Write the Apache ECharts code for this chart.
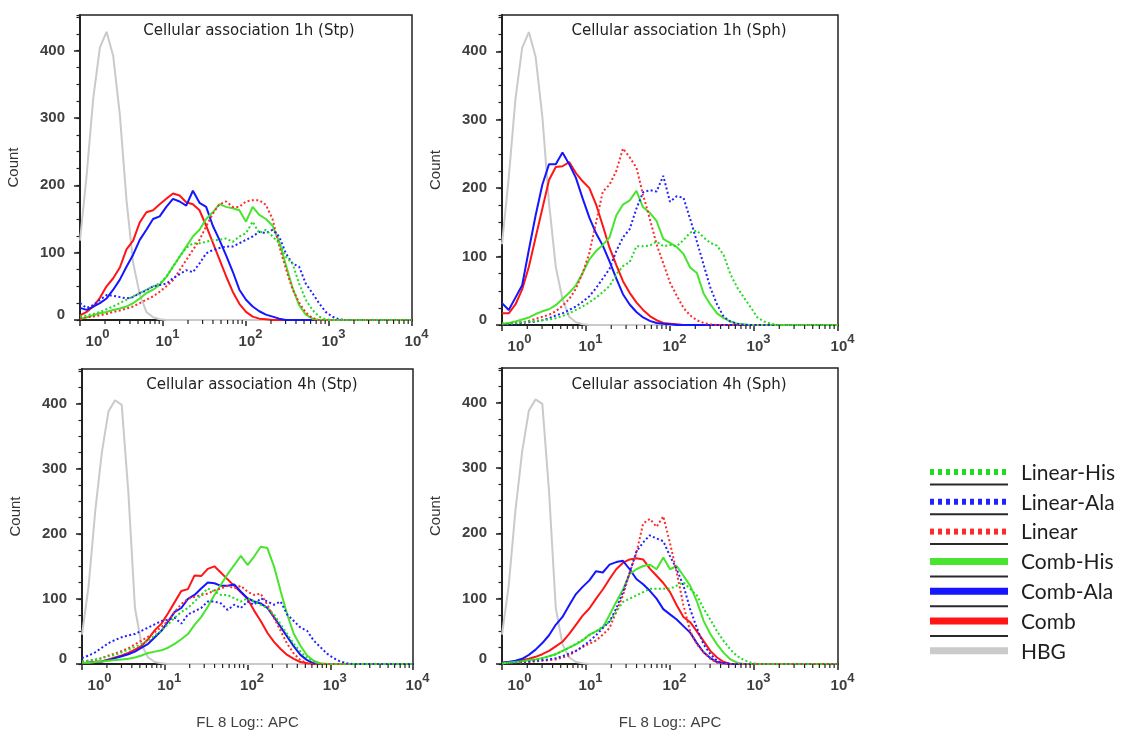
<!DOCTYPE html>
<html>
<head>
<meta charset="utf-8">
<script src="https://cdn.jsdelivr.net/npm/echarts@6/dist/echarts.min.js"></script>
<style>
  html, body { margin: 0; padding: 0; background: #ffffff; }
  #chart { width: 1128px; height: 731px; }
</style>
</head>
<body>
<div id="chart"></div>
<script>
// Flow cytometry histograms: counts per log channel, channel i sits at 10^(i * 0.08)
const CHANNEL_STEP_PERCENT = 8;           // channel width in hundredths of a decade
const SERIES_NAMES = ['Linear-His', 'Linear-Ala', 'Linear', 'Comb-His', 'Comb-Ala', 'Comb', 'HBG'];
const PANEL_TITLES = [
  'Cellular association 1h (Stp)',
  'Cellular association 1h (Sph)',
  'Cellular association 4h (Stp)',
  'Cellular association 4h (Sph)'
];
const X_AXIS_TITLE = 'FL 8 Log:: APC';
const Y_AXIS_TITLE = 'Count';
const MINOR_MANTISSAS = [2, 3, 4, 5, 6, 7, 8, 9];
const MINOR_DECADES = [1, 10, 100, 1000];

// untreated control (HBG)
const HBG_1H = [118,215,330,405,428,392,305,178,85,38, 12,4,1,0,0,0,0,0,0,0, 0,0,0,0,0,0,0,0,0,0, 0,0,0,0,0,0,0,0,0,0, 0,0,0,0,0,0,0,0,0,0, 0];
const HBG_4H = [45,120,235,325,388,405,398,264,86,30, 10,3,1,0,0,0,0,0,0,0, 0,0,0,0,0,0,0,0,0,0, 0,0,0,0,0,0,0,0,0,0, 0,0,0,0,0,0,0,0,0,0, 0];

// 1h, Stp
const STP_1H_COMB       = [7,12,20,33,50,62,78,105,118,145, 160,163,172,180,188,185,175,172,163,140, 115,90,65,42,24,12,5,2,1,0, 0,0,0,0,0,0,0,0,0,0, 0,0,0,0,0,0,0,0,0,0, 0];
const STP_1H_COMB_ALA   = [18,15,20,25,32,45,60,79,97,119, 134,150,154,168,180,176,170,192,174,168, 140,119,96,72,45,30,20,13,8,5, 2,0,0,0,0,0,0,0,0,0, 0,0,0,0,0,0,0,0,0,0, 0];
const STP_1H_COMB_HIS   = [2,4,7,10,12,15,17,20,25,32, 40,45,52,64,79,94,109,124,134,150, 160,172,168,166,163,146,168,156,150,140, 116,82,48,22,8,2,0,0,0,0, 0,0,0,0,0,0,0,0,0,0, 0];
const STP_1H_LINEAR     = [2,4,5,7,9,12,14,17,20,25, 30,35,42,50,59,74,89,104,119,139, 158,172,176,168,168,176,178,178,171,150, 110,76,46,26,11,3,0,0,0,0, 0,0,0,0,0,0,0,0,0,0, 0];
const STP_1H_LINEAR_ALA = [25,18,22,30,37,36,34,32,34,40, 44,50,52,54,62,68,74,71,84,99, 104,107,109,109,114,119,124,131,129,134, 124,99,84,79,54,40,25,12,5,1, 0,0,0,0,0,0,0,0,0,0, 0];
const STP_1H_LINEAR_HIS = [5,7,9,12,16,20,25,30,35,40, 45,50,54,64,79,94,107,114,114,116, 119,119,121,116,124,129,146,129,134,124, 114,94,84,54,30,15,5,1,0,0, 0,0,0,0,0,0,0,0,0,0, 0];

// 1h, Sph
const SPH_1H_COMB       = [17,17,30,52,85,128,170,212,231,232, 238,222,210,200,176,145,113,88,64,47, 33,22,13,7,3,2,1,0,0,0, 0,0,0,0,0,0,0,0,0,0, 0,0,0,0,0,0,0,0,0,0, 0];
const SPH_1H_COMB_ALA   = [32,22,40,58,110,160,205,235,235,252, 235,215,185,157,134,116,93,68,45,30, 19,11,6,3,2,1,0,0,0,0, 0,0,0,0,0,0,0,0,0,0, 0,0,0,0,0,0,0,0,0,0, 0];
const SPH_1H_COMB_HIS   = [2,3,5,8,11,16,20,23,29,38, 47,58,76,96,108,117,128,160,176,182, 196,172,164,152,126,120,114,104,84,76, 46,30,17,10,5,2,1,0,0,0, 0,0,0,0,0,0,0,0,0,0, 0];
const SPH_1H_LINEAR     = [1,2,3,4,6,9,12,15,20,28, 38,53,76,105,150,195,205,225,258,245, 230,190,155,118,90,62,43,25,14,7, 3,1,0,0,0,0,0,0,0,0, 0,0,0,0,0,0,0,0,0,0, 0];
const SPH_1H_LINEAR_ALA = [1,1,2,3,4,5,7,10,14,17, 22,27,34,42,54,68,82,108,128,140, 170,194,197,195,218,180,188,186,155,122, 88,55,30,12,5,2,0,0,0,0, 0,0,0,0,0,0,0,0,0,0, 0];
const SPH_1H_LINEAR_HIS = [2,2,3,4,5,6,7,8,10,13, 17,22,27,33,40,48,57,74,86,92, 115,115,116,122,115,117,115,124,135,138, 128,120,116,102,74,55,40,26,11,5, 2,0,0,0,0,0,0,0,0,0, 0];

// 4h, Stp
const STP_4H_COMB       = [1,2,3,4,7,10,13,17,22,28, 38,52,62,78,95,112,115,136,135,146, 150,140,130,120,110,100,82,66,48,34, 23,14,8,3,1,0,0,0,0,0, 0,0,0,0,0,0,0,0,0,0, 0];
const STP_4H_COMB_ALA   = [1,2,3,4,6,9,12,15,19,25, 31,41,51,65,80,86,100,106,116,125, 124,120,120,122,111,101,96,93,86,72, 57,42,27,14,6,1,0,0,0,0, 0,0,0,0,0,0,0,0,0,0, 0];
const STP_4H_COMB_HIS   = [2,2,3,4,5,6,7,8,10,13, 17,19,21,25,31,38,46,60,72,88, 106,122,138,152,166,152,165,180,178,150, 112,76,46,28,13,5,1,0,0,0, 0,0,0,0,0,0,0,0,0,0, 0];
const STP_4H_LINEAR     = [4,5,6,9,13,16,20,24,30,36, 42,49,57,66,80,92,100,103,106,108, 113,116,120,116,120,111,106,108,91,71, 51,31,16,6,1,0,0,0,0,0, 0,0,0,0,0,0,0,0,0,0, 0];
const STP_4H_LINEAR_ALA = [9,13,18,25,32,37,41,44,46,51, 56,61,66,68,71,62,76,81,86,96, 96,93,83,91,86,96,91,101,96,91, 96,76,66,56,51,36,26,16,9,4, 1,0,0,0,0,0,0,0,0,0, 0];
const STP_4H_LINEAR_HIS = [4,5,7,9,12,14,18,22,26,31, 36,44,51,61,71,80,86,96,106,116, 111,106,106,101,96,101,96,91,86,76, 61,46,31,19,9,4,0,0,0,0, 0,0,0,0,0,0,0,0,0,0, 0];

// 4h, Sph
const SPH_4H_COMB       = [2,3,4,6,8,11,15,20,27,34, 46,60,74,85,100,114,130,145,155,160, 162,160,146,135,124,110,90,72,64,50, 35,20,10,3,0,0,0,0,0,0, 0,0,0,0,0,0,0,0,0,0, 0];
const SPH_4H_COMB_ALA   = [2,3,5,8,14,22,32,44,60,72, 90,107,118,128,142,140,152,156,158,145, 130,122,112,100,84,76,68,58,48,32, 18,9,3,1,0,0,0,0,0,0, 0,0,0,0,0,0,0,0,0,0, 0];
const SPH_4H_COMB_HIS   = [1,2,3,4,6,7,9,12,15,20, 25,30,36,45,50,56,75,95,114,138, 145,150,152,145,163,145,150,135,120,96, 66,46,30,17,7,2,0,0,0,0, 0,0,0,0,0,0,0,0,0,0, 0];
const SPH_4H_LINEAR     = [1,1,2,2,3,4,5,6,7,10, 13,20,26,31,36,45,55,80,105,140, 170,215,222,210,226,185,140,90,50,30, 18,8,2,0,0,0,0,0,0,0, 0,0,0,0,0,0,0,0,0,0, 0];
const SPH_4H_LINEAR_ALA = [1,1,2,3,4,5,6,7,9,12, 16,20,27,35,44,55,65,85,110,140, 172,186,197,192,188,165,145,120,84,55, 30,15,5,1,0,0,0,0,0,0, 0,0,0,0,0,0,0,0,0,0, 0];
const SPH_4H_LINEAR_HIS = [1,2,3,4,6,7,9,12,15,20, 25,31,37,44,50,57,65,80,95,100, 105,110,115,115,115,115,120,125,115,105, 85,68,50,35,22,12,6,2,0,0, 0,0,0,0,0,0,0,0,0,0, 0];

const PANEL_DATA = [
  { 'HBG': HBG_1H, 'Comb': STP_1H_COMB, 'Comb-Ala': STP_1H_COMB_ALA, 'Comb-His': STP_1H_COMB_HIS,
    'Linear': STP_1H_LINEAR, 'Linear-Ala': STP_1H_LINEAR_ALA, 'Linear-His': STP_1H_LINEAR_HIS },
  { 'HBG': HBG_1H, 'Comb': SPH_1H_COMB, 'Comb-Ala': SPH_1H_COMB_ALA, 'Comb-His': SPH_1H_COMB_HIS,
    'Linear': SPH_1H_LINEAR, 'Linear-Ala': SPH_1H_LINEAR_ALA, 'Linear-His': SPH_1H_LINEAR_HIS },
  { 'HBG': HBG_4H, 'Comb': STP_4H_COMB, 'Comb-Ala': STP_4H_COMB_ALA, 'Comb-His': STP_4H_COMB_HIS,
    'Linear': STP_4H_LINEAR, 'Linear-Ala': STP_4H_LINEAR_ALA, 'Linear-His': STP_4H_LINEAR_HIS },
  { 'HBG': HBG_4H, 'Comb': SPH_4H_COMB, 'Comb-Ala': SPH_4H_COMB_ALA, 'Comb-His': SPH_4H_COMB_HIS,
    'Linear': SPH_4H_LINEAR, 'Linear-Ala': SPH_4H_LINEAR_ALA, 'Linear-His': SPH_4H_LINEAR_HIS }
];

// ---- styling ----
const STYLE = {
  'Linear-His': { color: '#1edc1e', dotted: true },
  'Linear-Ala': { color: '#2222ff', dotted: true },
  'Linear':     { color: '#ff2b2b', dotted: true },
  'Comb-His':   { color: '#48e42e', dotted: false },
  'Comb-Ala':   { color: '#1515ff', dotted: false },
  'Comb':       { color: '#ff1515', dotted: false },
  'HBG':        { color: '#cacaca', dotted: false }
};
const DRAW_ORDER = ['HBG', 'Comb', 'Comb-Ala', 'Comb-His', 'Linear', 'Linear-Ala', 'Linear-His'];

const GRIDS = [
  { left: 80,  top: 15,  width: 332, height: 305 },
  { left: 502, top: 15,  width: 336, height: 310 },
  { left: 82,  top: 369, width: 331, height: 302 },
  { left: 502, top: 368, width: 336, height: 302 }
];
const TITLE_POS = [[249, 31], [679, 31], [252, 385], [679, 385]];
const Y_MAX = 453;

const AXIS_FONT = 'Liberation Sans, Arial, sans-serif';
const INK = '#222';
const LABEL_INK = '#3f3f3f';

function channelValue(i) {
  return Math.pow(10, (i * CHANNEL_STEP_PERCENT) / 100);
}

const minorXTicks = [];
MINOR_DECADES.forEach(d => MINOR_MANTISSAS.forEach(m => minorXTicks.push([m * d, 0])));

const xLabelRich = {
  b: { fontFamily: AXIS_FONT, fontSize: 15, fontWeight: 'bold', color: LABEL_INK, lineHeight: 15, padding: [7, 0, 0, 9] },
  f: { fontFamily: AXIS_FONT, fontSize: 15, fontWeight: 'bold', color: LABEL_INK, lineHeight: 15, padding: [7, 0, 0, 35] },
  s: { fontFamily: AXIS_FONT, fontSize: 13, fontWeight: 'bold', color: LABEL_INK, lineHeight: 13, padding: [0, 0, 9, 0] }
};
const yLabelRich = {
  z: { fontFamily: AXIS_FONT, fontSize: 15, fontWeight: 'bold', color: LABEL_INK, padding: [0, 0, 10, 0] }
};

const grid = GRIDS.map(g => Object.assign({
  show: true, borderColor: INK, borderWidth: 1.5, backgroundColor: 'transparent', containLabel: false
}, g));

const xAxis = GRIDS.map((g, k) => ({
  type: 'log', logBase: 10, min: 1, max: 10000, gridIndex: k, position: 'bottom',
  name: k >= 2 ? X_AXIS_TITLE : '',
  nameLocation: 'middle', nameGap: 51,
  nameTextStyle: { fontFamily: AXIS_FONT, fontSize: 15, color: LABEL_INK },
  axisLine: { show: true, lineStyle: { color: INK, width: 2 } },
  axisTick: { show: true, length: 6, lineStyle: { color: INK, width: 1.5 } },
  splitLine: { show: false },
  minorTick: { show: false },
  axisLabel: {
    margin: 11,
    showMinLabel: true, showMaxLabel: true,
    formatter: v => {
      const e = Math.round(Math.log10(v));
      return (e === 0 ? '{f|10}' : '{b|10}') + '{s|' + e + '}';
    },
    rich: xLabelRich
  }
}));

const yAxis = [];
GRIDS.forEach((g, k) => {
  yAxis.push({
    type: 'value', min: 0, max: Y_MAX, interval: 100, gridIndex: k, position: 'left',
    name: Y_AXIS_TITLE, nameLocation: 'middle', nameGap: 59,
    nameTextStyle: { fontFamily: AXIS_FONT, fontSize: 15, color: '#333' },
    axisLine: { show: true, lineStyle: { color: INK, width: 2 } },
    axisTick: { show: true, length: 6, lineStyle: { color: INK, width: 1.5 } },
    splitLine: { show: false },
    axisLabel: {
      margin: 15, showMaxLabel: false,
      fontFamily: AXIS_FONT, fontSize: 15, fontWeight: 'bold', color: LABEL_INK,
      formatter: v => (v === 0 ? '{z|0}' : String(v)),
      rich: yLabelRich
    }
  });
});
// finer count ticks every 25, on the same left edge
GRIDS.forEach((g, k) => {
  yAxis.push({
    type: 'value', min: 0, max: Y_MAX, interval: 25, gridIndex: k, position: 'left', offset: 0,
    axisLine: { show: false },
    axisTick: { show: true, length: 3.5, lineStyle: { color: INK, width: 1.2 } },
    axisLabel: { show: false },
    splitLine: { show: false }
  });
});

const series = [];
PANEL_DATA.forEach((panel, k) => {
  DRAW_ORDER.forEach(name => {
    const st = STYLE[name];
    series.push({
      type: 'line', name: name,
      xAxisIndex: k, yAxisIndex: k,
      data: panel[name].map((v, i) => [channelValue(i), v]),
      showSymbol: false, symbol: 'none', smooth: false,
      silent: true,
      lineStyle: {
        color: st.color,
        width: 2,
        type: st.dotted ? [2, 2.4] : 'solid'
      },
      z: st.dotted ? 4 : 3
    });
  });
  // log minor ticks along the channel axis
  series.push({
    type: 'custom', xAxisIndex: k, yAxisIndex: k, silent: true, z: 5,
    data: minorXTicks,
    renderItem: (params, api) => {
      const p = api.coord([api.value(0), api.value(1)]);
      return {
        type: 'line',
        shape: { x1: p[0], y1: p[1], x2: p[0], y2: p[1] + 4 },
        style: { stroke: INK, lineWidth: 1.2 }
      };
    }
  });
});

// panel titles and legend
const graphic = [];
PANEL_TITLES.forEach((t, k) => {
  graphic.push({
    type: 'text', x: TITLE_POS[k][0], y: TITLE_POS[k][1], silent: true,
    style: {
      text: t, fill: '#222', align: 'center', verticalAlign: 'middle',
      font: '15px "DejaVu Sans", Verdana, sans-serif'
    }
  });
});
const LEGEND_X = 930, LEGEND_LEN = 78, LEGEND_TOP = 472, LEGEND_STEP = 29.8;
SERIES_NAMES.forEach((name, i) => {
  const st = STYLE[name];
  const y = LEGEND_TOP + i * LEGEND_STEP;
  graphic.push({
    type: 'line', silent: true,
    shape: { x1: LEGEND_X, y1: y, x2: LEGEND_X + LEGEND_LEN, y2: y },
    style: { stroke: st.color, lineWidth: st.dotted ? 6 : 7, lineDash: st.dotted ? [4, 4] : null }
  });
  if (name !== 'HBG') {
    const yb = y + (st.dotted ? 12.5 : 15);
    graphic.push({
      type: 'line', silent: true,
      shape: { x1: LEGEND_X, y1: yb, x2: LEGEND_X + LEGEND_LEN, y2: yb },
      style: { stroke: '#2a2a2a', lineWidth: 2 }
    });
  }
  graphic.push({
    type: 'text', silent: true, x: 1021, y: y + 1,
    style: { text: name, fill: '#1e1e1e', verticalAlign: 'middle', font: '21px Lato, "Open Sans", sans-serif' }
  });
});

const chart = echarts.init(document.getElementById('chart'));
chart.setOption({
  animation: false,
  backgroundColor: '#ffffff',
  grid, xAxis, yAxis, series, graphic
});
</script>
</body>
</html>
